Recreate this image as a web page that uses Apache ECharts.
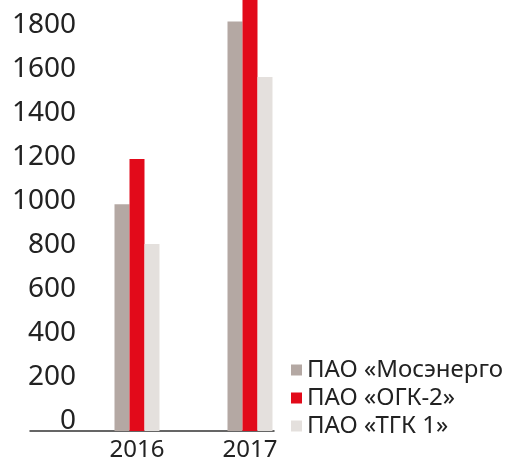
<!DOCTYPE html>
<html>
<head>
    <meta charset="utf-8">
    <title>Chart</title>
    <script src="https://cdn.jsdelivr.net/npm/echarts@6/dist/echarts.min.js"></script>
    <style>
        html, body { margin: 0; padding: 0; background: #fff; }
        #main { width: 505px; height: 462px; }
    </style>
</head>
<body>
    <div id="main"></div>
    <script type="text/javascript">
        var years = [2016, 2017];
        var seriesNames = ['ПАО «Мосэнерго', 'ПАО «ОГК-2»', 'ПАО «ТГК 1»'];
        var mosenergo = [1030, 1860];
        var ogk2 = [1236, 2050];
        var tgk1 = [850, 1608];
        var yTicks = [0, 200, 400, 600, 800, 1000, 1200, 1400, 1600, 1800];
        var colors = ['#b4a8a3', '#e20a1a', '#e4e0dd'];

        function pairs(vals) {
            return vals.map(function (v, i) { return [years[i], v]; });
        }

        var font = '"Noto Sans", sans-serif';
        var myChart = echarts.init(document.getElementById('main'));

        var option = {
            animation: false,
            color: colors,
            grid: { left: 30, right: 231, top: 0, bottom: 25.5 },
            legend: {
                orient: 'vertical',
                left: 286,
                top: 353,
                icon: 'rect',
                itemWidth: 11,
                itemHeight: 11,
                itemGap: 4,
                textStyle: { fontFamily: font, fontSize: 24, color: '#222' },
                data: seriesNames
            },
            xAxis: {
                type: 'value',
                min: years[0] - 0.9469,
                max: years[0] - 0.9469 + 244 / 113,
                splitLine: { show: false },
                axisTick: { show: false },
                axisLine: { show: true, lineStyle: { color: '#333', width: 1.5 } },
                axisLabel: {
                    customValues: years,
                    margin: 7,
                    fontFamily: font,
                    fontSize: 24,
                    color: '#222',
                    formatter: function (v) { return String(v); }
                }
            },
            yAxis: {
                type: 'value',
                min: 0,
                max: 1958,
                interval: 200,
                splitLine: { show: false },
                axisLine: { show: false },
                axisTick: { show: false },
                axisLabel: {
                    customValues: yTicks,
                    margin: -46,
                    verticalAlign: 'bottom',
                    lineHeight: 20,
                    fontFamily: font,
                    fontSize: 28,
                    color: '#222',
                    formatter: function (v) { return String(v); }
                }
            },
            series: [
                { name: seriesNames[0], type: 'bar', barWidth: 15, barGap: '0%', data: pairs(mosenergo) },
                { name: seriesNames[1], type: 'bar', barWidth: 15, barGap: '0%', data: pairs(ogk2) },
                { name: seriesNames[2], type: 'bar', barWidth: 15, barGap: '0%', data: pairs(tgk1) }
            ]
        };
        myChart.setOption(option);
    </script>
</body>
</html>
